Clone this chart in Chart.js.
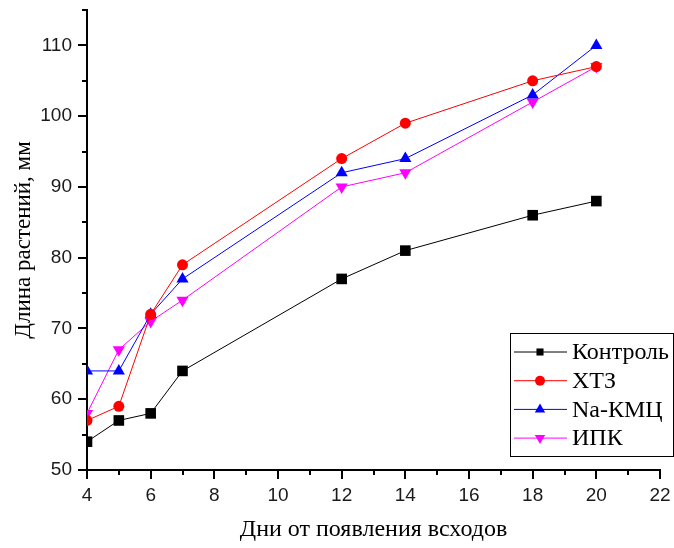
<!DOCTYPE html>
<html>
<head>
<meta charset="utf-8">
<script src="https://cdn.jsdelivr.net/npm/chart.js@4/dist/chart.umd.min.js"></script>
<style>
  html, body { margin: 0; padding: 0; background: #fff; }
  #wrap { width: 674px; height: 548px; position: relative; }
</style>
</head>
<body>
<div id="wrap"><canvas id="grafico"></canvas></div>
<script>
// дни от появления всходов
const dias = [4, 5, 6, 7, 12, 14, 18, 20];

// длина растений, мм
const kontrol = [54, 57, 58, 64, 77, 81, 86, 88];
const htz = [57, 59, 72, 79, 94, 99, 105, 107];
const naKmc = [64, 64, 72, 77, 92, 94, 103, 110];
const ipk = [58, 67, 71, 74, 90, 92, 102, 107];

const nombres = ["Контроль", "ХТЗ", "Na-КМЦ", "ИПК"];
const xTicks = [4, 6, 8, 10, 12, 14, 16, 18, 20, 22];
const yTicks = [50, 60, 70, 80, 90, 100, 110];

function puntos(vals) {
  return dias.map((d, i) => ({ x: d, y: vals[i] }));
}

function serie(label, vals, color, estilo, radio, rot) {
  return {
    label: label,
    data: puntos(vals),
    borderColor: color,
    backgroundColor: color,
    borderWidth: 1,
    pointStyle: estilo,
    pointRadius: radio,
    pointHoverRadius: radio,
    pointRotation: rot || 0,
    pointBorderWidth: 0,
    tension: 0,
    clip: 0
  };
}

// marcas de ejes hacia afuera, mayores y menores
const marcas = {
  id: "marcas",
  afterDraw(chart) {
    const ctx = chart.ctx;
    const xs = chart.scales.x, ys = chart.scales.y;
    const a = chart.chartArea;
    ctx.save();
    ctx.strokeStyle = "#000";
    ctx.lineWidth = 2;
    for (let v = 4; v <= 22; v++) {
      const px = Math.round(xs.getPixelForValue(v));
      const len = v % 2 === 0 ? 9 : 5;
      ctx.beginPath();
      ctx.moveTo(px, a.bottom);
      ctx.lineTo(px, a.bottom + len);
      ctx.stroke();
    }
    for (let v = 50; v <= 115; v += 5) {
      const py = Math.round(ys.getPixelForValue(v));
      const len = v % 10 === 0 ? 9 : 5;
      ctx.beginPath();
      ctx.moveTo(a.left, py);
      ctx.lineTo(a.left - len, py);
      ctx.stroke();
    }
    ctx.restore();
  }
};

// leyenda dentro del área
const leyenda = {
  id: "leyenda",
  afterDraw(chart) {
    const ctx = chart.ctx;
    const bx = 510, by = 333, bw = 163, bh = 123;
    const tam = [5, 5, 6, 6];
    ctx.save();
    ctx.fillStyle = "#fff";
    ctx.fillRect(bx, by, bw, bh);
    ctx.strokeStyle = "#000";
    ctx.lineWidth = 1;
    ctx.strokeRect(bx + 0.5, by + 0.5, bw, bh);
    ctx.font = "24px 'Liberation Serif', 'Times New Roman', serif";
    ctx.textBaseline = "middle";
    chart.data.datasets.forEach((ds, i) => {
      const y = 352 + i * 28.7;
      ctx.strokeStyle = ds.borderColor;
      ctx.lineWidth = 1;
      ctx.beginPath();
      ctx.moveTo(514, y);
      ctx.lineTo(567, y);
      ctx.stroke();
      ctx.fillStyle = ds.backgroundColor;
      Chart.helpers.drawPoint(ctx, {
        pointStyle: ds.pointStyle,
        radius: tam[i],
        rotation: ds.pointRotation,
        borderWidth: 0
      }, 540, y);
      ctx.fillStyle = "#000";
      ctx.fillText(ds.label, 572, y + 1);
    });
    ctx.restore();
  }
};

const ctx = document.getElementById("grafico").getContext("2d");
new Chart(ctx, {
  type: "line",
  data: {
    datasets: [
      serie(nombres[0], kontrol, "#000000", "rect", 7.5),
      serie(nombres[1], htz, "#ff0000", "circle", 5.5),
      serie(nombres[2], naKmc, "#0000ff", "triangle", 7),
      serie(nombres[3], ipk, "#ff00ff", "triangle", 7, 180)
    ]
  },
  options: {
    responsive: true,
    maintainAspectRatio: false,
    animation: false,
    layout: { padding: { top: 10, right: 14, left: 0, bottom: 0 } },
    plugins: {
      legend: { display: false },
      tooltip: { enabled: false }
    },
    scales: {
      x: {
        type: "linear",
        min: 4,
        max: 22,
        afterBuildTicks: (s) => { s.ticks = xTicks.map(v => ({ value: v })); },
        afterFit: (s) => { s.height = 78; s.paddingLeft = 0; s.paddingRight = 0; },
        grid: { display: false, drawTicks: false },
        border: { display: true, color: "#000", width: 2 },
        ticks: {
          padding: 14,
          color: "#1a1a1a",
          font: { family: "'Liberation Sans', Arial, sans-serif", size: 19 }
        },
        title: {
          display: true,
          text: "Дни от появления всходов",
          color: "#000",
          font: { family: "'Liberation Serif', 'Times New Roman', serif", size: 24 },
          padding: { top: 4, bottom: 4 }
        }
      },
      y: {
        min: 50,
        max: 115,
        afterBuildTicks: (s) => { s.ticks = yTicks.map(v => ({ value: v })); },
        afterFit: (s) => { s.width = 87; s.paddingTop = 0; s.paddingBottom = 0; },
        grid: { display: false, drawTicks: false },
        border: { display: true, color: "#000", width: 2 },
        ticks: {
          padding: 15,
          color: "#1a1a1a",
          font: { family: "'Liberation Sans', Arial, sans-serif", size: 19 }
        },
        title: {
          display: true,
          text: "Длина растений, мм",
          color: "#000",
          font: { family: "'Liberation Serif', 'Times New Roman', serif", size: 23 },
          padding: { top: 10, bottom: 4 }
        }
      }
    }
  },
  plugins: [marcas, leyenda]
});
</script>
</body>
</html>
